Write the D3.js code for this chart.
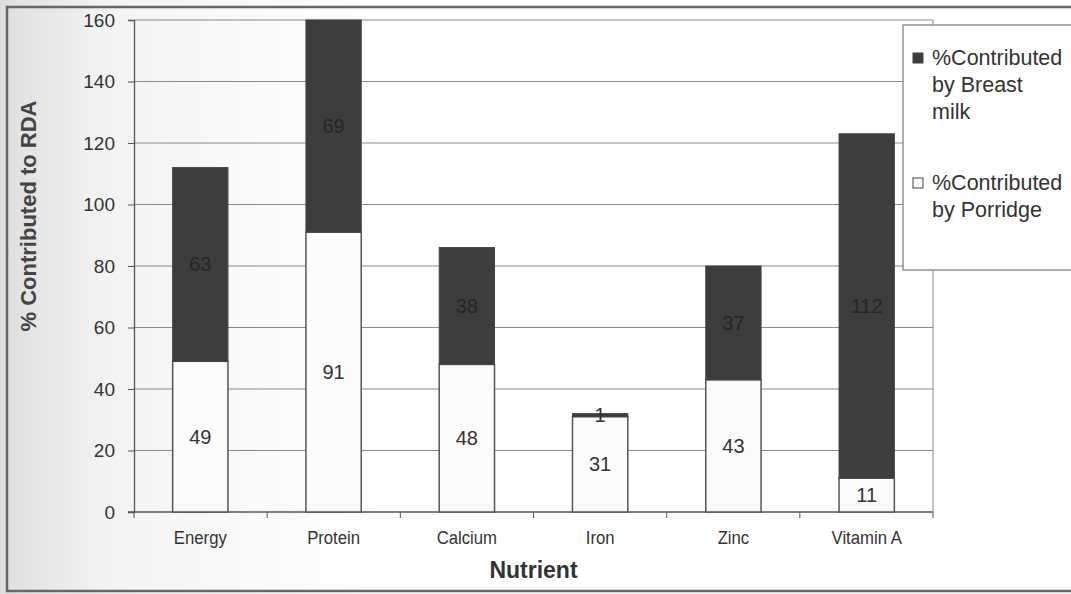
<!DOCTYPE html>
<html>
<head>
<meta charset="utf-8">
<script src="https://cdn.jsdelivr.net/npm/d3@7"></script>
<style>
  body { margin: 0; background: #fff; }
  svg { display: block; }
</style>
</head>
<body>
<svg id="chart" width="1071" height="594"></svg>
<script>
// chart values
const nutrients = ["Energy", "Protein", "Calcium", "Iron", "Zinc", "Vitamin A"];
const porridge = [49, 91, 48, 31, 43, 11];
const breastMilk = [63, 69, 38, 1, 37, 112];
const yTicks = [0, 20, 40, 60, 80, 100, 120, 140, 160];
const legendLabels = [
    ["%Contributed", "by Breast", "milk"],
    ["%Contributed", "by Porridge"]
];

const svg = d3.select("#chart");
const plot = { left: 134, right: 933, top: 20, bottom: 512 };
const labelFont = "Liberation Sans, Arial, sans-serif";

// faint grey wash on the left side of the page
const defs = svg.append("defs");
const grad = defs.append("linearGradient").attr("id", "wash");
grad.append("stop").attr("offset", "0%").attr("stop-color", "#dedede");
grad.append("stop").attr("offset", "10%").attr("stop-color", "#f3f3f3");
grad.append("stop").attr("offset", "35%").attr("stop-color", "#ffffff");
svg.append("rect").attr("width", 1071).attr("height", 594).attr("fill", "url(#wash)");

// frame
svg.append("rect")
    .attr("x", 7).attr("y", 7)
    .attr("width", 1080).attr("height", 584)
    .attr("fill", "none")
    .attr("stroke", "#666")
    .attr("stroke-width", 2.5);

const x = d3.scaleBand()
    .domain(nutrients)
    .range([plot.left, plot.right])
    .paddingInner(0.585)
    .paddingOuter(0.29);

const y = d3.scaleLinear().domain([0, 160]).range([plot.bottom, plot.top]);

// gridlines
svg.append("g")
    .selectAll("line")
    .data(yTicks.filter(d => d > 0))
    .enter()
    .append("line")
    .attr("x1", plot.left).attr("x2", plot.right)
    .attr("y1", d => y(d)).attr("y2", d => y(d))
    .attr("stroke", "#8a8a8a")
    .attr("stroke-width", 1);

// right edge of plot area
svg.append("line")
    .attr("x1", plot.right).attr("x2", plot.right)
    .attr("y1", plot.top).attr("y2", plot.bottom)
    .attr("stroke", "#8a8a8a");

// y axis
const yAxis = svg.append("g")
    .attr("transform", `translate(${plot.left},0)`)
    .call(d3.axisLeft(y).tickValues(yTicks).tickSize(6).tickPadding(13));
yAxis.select(".domain").attr("stroke", "#555").attr("stroke-width", 1.3);
yAxis.selectAll(".tick line").attr("stroke", "#555");
yAxis.selectAll("text")
    .attr("font-family", labelFont)
    .attr("font-size", "19px")
    .attr("fill", "#333");

// x axis: ticks sit on the band boundaries
const boundaries = d3.range(nutrients.length + 1).map(i => plot.left + i * (plot.right - plot.left) / nutrients.length);
svg.append("line")
    .attr("x1", plot.left - 6).attr("x2", plot.right)
    .attr("y1", plot.bottom).attr("y2", plot.bottom)
    .attr("stroke", "#555").attr("stroke-width", 1.3);
svg.append("g")
    .selectAll("line")
    .data(boundaries)
    .enter()
    .append("line")
    .attr("x1", d => d).attr("x2", d => d)
    .attr("y1", plot.bottom).attr("y2", plot.bottom + 6)
    .attr("stroke", "#555");

// category labels are drawn a little narrow, like the original
svg.append("g")
    .selectAll("text")
    .data(nutrients)
    .enter()
    .append("text")
    .attr("transform", d => `translate(${x(d) + x.bandwidth() / 2},544) scale(0.88,1)`)
    .attr("text-anchor", "middle")
    .attr("font-family", labelFont)
    .attr("font-size", "19px")
    .attr("fill", "#333")
    .text(d => d);

// stacked bars
const rows = nutrients.map((n, i) => ({ n: n, p: porridge[i], b: breastMilk[i] }));

const bars = svg.append("g");
bars.selectAll(".porridge")
    .data(rows)
    .enter()
    .append("rect")
    .attr("class", "porridge")
    .attr("x", d => x(d.n))
    .attr("width", x.bandwidth())
    .attr("y", d => y(d.p))
    .attr("height", d => y(0) - y(d.p))
    .attr("fill", "#fbfbfb")
    .attr("stroke", "#555")
    .attr("stroke-width", 1.5);

bars.selectAll(".milk")
    .data(rows)
    .enter()
    .append("rect")
    .attr("class", "milk")
    .attr("x", d => x(d.n))
    .attr("width", x.bandwidth())
    .attr("y", d => y(d.p + d.b))
    .attr("height", d => y(d.p) - y(d.p + d.b))
    .attr("fill", "#3d3d3d")
    .attr("stroke", "#444")
    .attr("stroke-width", 1);

// value labels
bars.selectAll(".plabel")
    .data(rows)
    .enter()
    .append("text")
    .attr("x", d => x(d.n) + x.bandwidth() / 2)
    .attr("y", d => (y(0) + y(d.p)) / 2 + 7)
    .attr("text-anchor", "middle")
    .attr("font-family", labelFont)
    .attr("font-size", "20px")
    .attr("fill", "#333")
    .text(d => d.p);

bars.selectAll(".blabel")
    .data(rows)
    .enter()
    .append("text")
    .attr("x", d => x(d.n) + x.bandwidth() / 2)
    .attr("y", d => (y(d.p) + y(d.p + d.b)) / 2 + 7)
    .attr("text-anchor", "middle")
    .attr("font-family", labelFont)
    .attr("font-size", "20px")
    .attr("fill", d => d.b < 5 ? "#333" : "#262626")
    .text(d => d.b);

// axis titles
svg.append("text")
    .attr("transform", "translate(36,216) rotate(-90)")
    .attr("text-anchor", "middle")
    .attr("font-family", labelFont)
    .attr("font-weight", "bold")
    .attr("font-size", "22px")
    .attr("fill", "#444")
    .text("% Contributed to RDA");

svg.append("text")
    .attr("x", (plot.left + plot.right) / 2).attr("y", 578)
    .attr("text-anchor", "middle")
    .attr("font-family", labelFont)
    .attr("font-weight", "bold")
    .attr("font-size", "23px")
    .attr("fill", "#333")
    .text("Nutrient");

// legend
const legend = svg.append("g");
legend.append("rect")
    .attr("x", 903).attr("y", 25)
    .attr("width", 200).attr("height", 245)
    .attr("fill", "#fff")
    .attr("stroke", "#777")
    .attr("stroke-width", 1.2);

const legendY = [65, 190];
const legendFill = ["#3d3d3d", "#fbfbfb"];
legendLabels.forEach((lines, i) => {
    legend.append("rect")
        .attr("x", 913).attr("y", legendY[i] - 12)
        .attr("width", 10).attr("height", 10)
        .attr("fill", legendFill[i])
        .attr("stroke", "#444");
    legend.selectAll(".l" + i)
        .data(lines)
        .enter()
        .append("text")
        .attr("x", 932)
        .attr("y", (d, j) => legendY[i] + j * 27)
        .attr("font-family", labelFont)
        .attr("font-size", "21.5px")
        .attr("fill", "#333")
        .text(d => d);
});
</script>
</body>
</html>
